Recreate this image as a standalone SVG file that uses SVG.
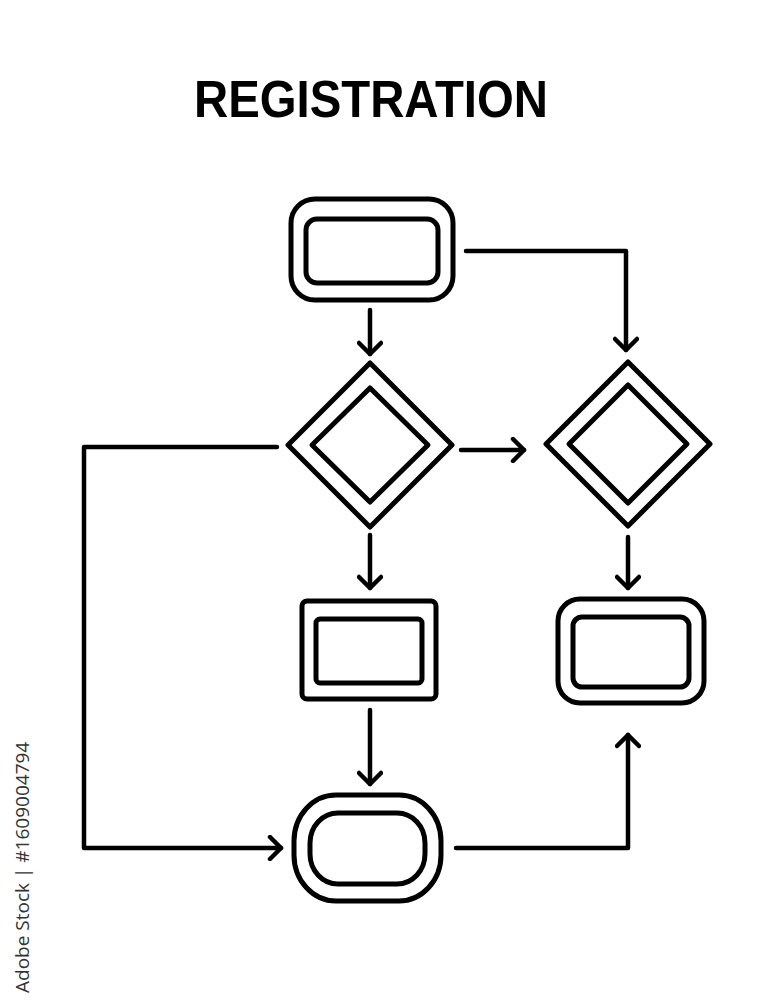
<svg xmlns="http://www.w3.org/2000/svg" width="760" height="1000" viewBox="0 0 760 1000">
  <defs>
    <style>
      .o{fill:none;stroke:#000;stroke-width:5;stroke-linejoin:round}
      .i{fill:none;stroke:#000;stroke-width:5;stroke-linejoin:round}
      .c{fill:none;stroke:#000;stroke-width:4.5;stroke-linecap:round;stroke-linejoin:round}
      .t{font-family:"Liberation Sans",Arial,sans-serif;font-weight:bold;font-size:52px;fill:#000}
      .w{font-family:"Open Sans","Noto Sans",sans-serif;font-size:19px;fill:#333}
    </style>
    <marker id="ah" viewBox="0 0 26 26" refX="14" refY="13" markerWidth="26" markerHeight="26" markerUnits="userSpaceOnUse" orient="auto">
      <path d="M3,2 L14,13 L3,24" fill="none" stroke="#000" stroke-width="4.5" stroke-linecap="round" stroke-linejoin="round"/>
    </marker>
  </defs>
  <rect width="760" height="1000" fill="#fff"/>
  <text class="t" x="371" y="117" text-anchor="middle" textLength="354" lengthAdjust="spacingAndGlyphs">REGISTRATION</text>

  <g id="connectors">
    <path class="c" d="M370,310 L370,354" marker-end="url(#ah)"/>
    <path class="c" d="M466,251 L626,251 L626,350" marker-end="url(#ah)"/>
    <path class="c" d="M461,450 L524,450" marker-end="url(#ah)"/>
    <path class="c" d="M277,447 L84,447 L84,848 L281,848" marker-end="url(#ah)"/>
    <path class="c" d="M370,535 L370,588" marker-end="url(#ah)"/>
    <path class="c" d="M370,710 L370,784" marker-end="url(#ah)"/>
    <path class="c" d="M628,537 L628,588" marker-end="url(#ah)"/>
    <path class="c" d="M456,848 L628,848 L628,735" marker-end="url(#ah)"/>
  </g>

  <g id="start">
    <rect class="o" x="291" y="199" width="162" height="101" rx="24" ry="24"/>
    <rect class="i" x="306" y="219" width="132" height="64" rx="11" ry="11"/>
  </g>
  <g id="decision1">
    <path class="o" d="M370,363 L452,445 L370,527 L288,445 Z"/>
    <path class="i" d="M370,388 L428,445 L370,502 L312,445 Z"/>
  </g>
  <g id="decision2">
    <path class="o" d="M628,362 L710,444 L628,526 L546,444 Z"/>
    <path class="i" d="M628,385 L687,444 L628,503 L569,444 Z"/>
  </g>
  <g id="process">
    <rect class="o" x="302" y="601" width="134" height="98" rx="5" ry="5"/>
    <rect class="i" x="316" y="619" width="106" height="64" rx="4" ry="4"/>
  </g>
  <g id="result">
    <rect class="o" x="558" y="599" width="146" height="104" rx="22" ry="22"/>
    <rect class="i" x="573" y="617" width="116" height="70" rx="9" ry="9"/>
  </g>
  <g id="end">
    <rect class="o" x="294" y="795" width="147" height="106" rx="42" ry="46"/>
    <rect class="i" x="310" y="813" width="115" height="71" rx="28" ry="30"/>
  </g>

  <text class="w" transform="translate(29,993) rotate(-90)">Adobe Stock | #1609004794</text>
</svg>
